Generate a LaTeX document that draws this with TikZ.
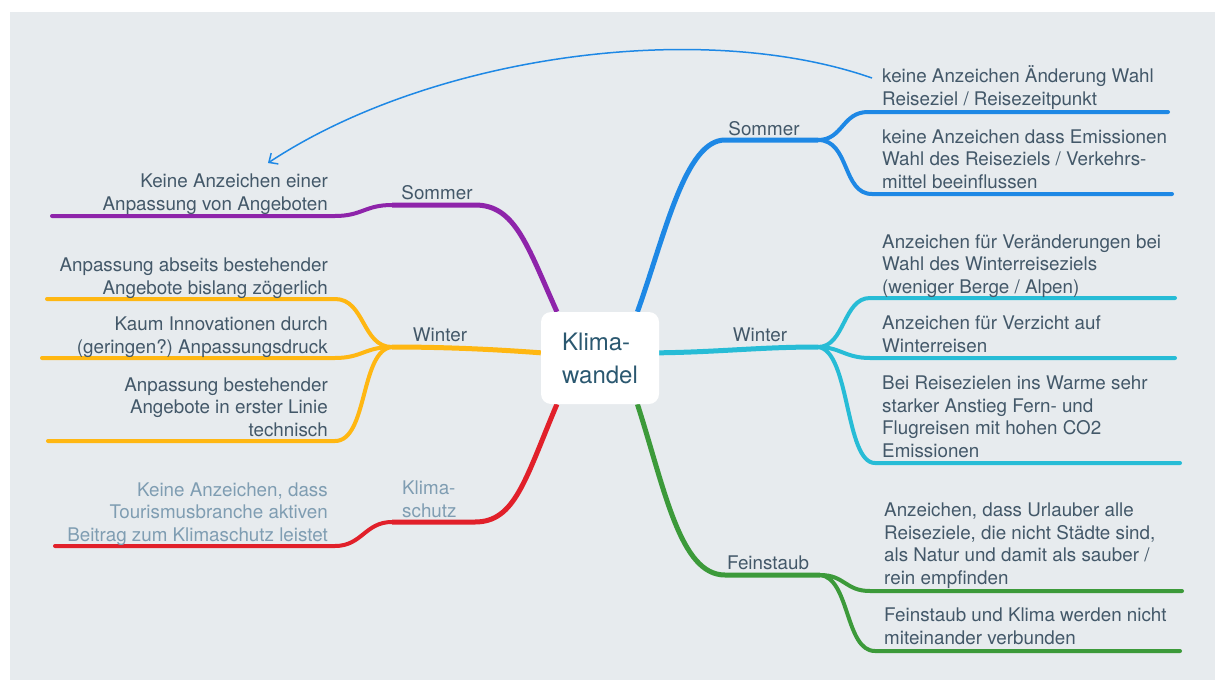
\documentclass[tikz,border=0pt]{standalone}
\usepackage{fontspec}
\setmainfont{TeX Gyre Heros}
\usetikzlibrary{positioning, arrows.meta, backgrounds}
\frenchspacing

\definecolor{bgGray}{HTML}{E7EBEE}
\definecolor{txtDark}{HTML}{435869}
\definecolor{txtLight}{HTML}{7F9DB2}
\definecolor{hubText}{HTML}{2B5870}
\definecolor{brBlue}{HTML}{1E88E5}
\definecolor{brCyan}{HTML}{27BCD6}
\definecolor{brGreen}{HTML}{3C9A3A}
\definecolor{brPurple}{HTML}{8E24AA}
\definecolor{brOrange}{HTML}{FFB712}
\definecolor{brRed}{HTML}{E1202A}

\begin{document}
\begin{tikzpicture}[
    % pixel grid, y pointing down
    x=1pt, y=-1pt,
    font=\fontsize{18.8}{22.5}\selectfont,
    % Styles for the branches
    branch/.style={line width=5pt},
    twig/.style={line width=4pt, line cap=round},
    % Styles for the texts
    leafR/.style={anchor=base west, align=left, inner sep=0pt, text=txtDark},
    leafL/.style={anchor=base east, align=right, inner sep=0pt, text=txtDark},
    topic/.style={anchor=base, inner sep=0pt, text=txtDark},
    hub_box/.style={fill=white, rounded corners=10pt, minimum width=118pt, minimum height=92pt,
        inner sep=0pt, align=left, text=hubText, font=\fontsize{24}{33}\selectfont}
]
\useasboundingbox (0,0) rectangle (1215,680);

%% --- CENTRE ---
\node[hub_box] (hub) at (600,358) {Klima-\\wandel};

%% --- RIGHT: SOMMER (blue) ---
\coordinate (bS) at (818,140);
\coordinate (b1) at (1168,112);
\coordinate (b2) at (1172,194);
\node[topic] (bSl) at (764,135) {Sommer};
\node[leafR] (b1t) at (882,105) {keine Anzeichen Änderung Wahl\\Reiseziel / Reisezeitpunkt};
\node[leafR] (b2t) at (882,188) {keine Anzeichen dass Emissionen\\Wahl des Reiseziels / Verkehrs-\\mittel beeinflussen};

%% --- RIGHT: WINTER (cyan) ---
\coordinate (cW) at (818,347);
\coordinate (c1) at (1175,298);
\coordinate (c2) at (1175,358);
\coordinate (c3) at (1180,463);
\node[topic] (cWl) at (760,341) {Winter};
\node[leafR] (c1t) at (882,293) {Anzeichen für Veränderungen bei\\Wahl des Winterreiseziels\\(weniger Berge / Alpen)};
\node[leafR] (c2t) at (882,352) {Anzeichen für Verzicht auf\\Winterreisen};
\node[leafR] (c3t) at (882,457) {Bei Reisezielen ins Warme sehr\\starker Anstieg Fern- und\\Flugreisen mit hohen CO2\\Emissionen};

%% --- RIGHT: FEINSTAUB (green) ---
\coordinate (gF) at (820,575);
\coordinate (g1) at (1182,591);
\coordinate (g2) at (1180,651);
\node[topic] (gFl) at (768,569) {Feinstaub};
\node[leafR] (g1t) at (884,584) {Anzeichen, dass Urlauber alle\\Reiseziele, die nicht Städte sind,\\als Natur und damit als sauber /\\rein empfinden};
\node[leafR] (g2t) at (884,644) {Feinstaub und Klima werden nicht\\miteinander verbunden};

%% --- LEFT: SOMMER (purple) ---
\coordinate (pS) at (392,205);
\coordinate (p1) at (52,216);
\node[topic] (pSl) at (437,199) {Sommer};
\node[leafL] (p1t) at (328,210) {Keine Anzeichen einer\\Anpassung von Angeboten};

%% --- LEFT: WINTER (orange) ---
\coordinate (oW) at (392,347);
\coordinate (o1) at (47,299);
\coordinate (o2) at (42,358);
\coordinate (o3) at (48,441);
\node[topic] (oWl) at (440,341) {Winter};
\node[leafL] (o1t) at (328,294) {Anpassung abseits bestehender\\Angebote bislang zögerlich};
\node[leafL] (o2t) at (328,353) {Kaum Innovationen durch\\(geringen?) Anpassungsdruck};
\node[leafL] (o3t) at (328,436) {Anpassung bestehender\\Angebote in erster Linie\\technisch};

%% --- LEFT: KLIMASCHUTZ (red) ---
\coordinate (rK) at (392,522);
\coordinate (r1) at (55,546);
\node[leafR, text=txtLight] (rKl) at (402,517) {Klima-\\schutz};
\node[leafL, text=txtLight] (r1t) at (328,541) {Keine Anzeichen, dass\\Tourismusbranche aktiven\\Beitrag zum Klimaschutz leistet};

%% --- CROSS LINK ---
\coordinate (arrS) at (872,78);
\coordinate (arrE) at (268,163);
\draw[brBlue, line width=1.5pt, -{Straight Barb[length=7pt, width=13pt]}]
    (arrS) .. controls (700,18) and (430,56) .. (arrE);

%% --- BACKGROUND LAYER: panel and branches ---
\begin{scope}[on background layer]
    \fill[white] (0,0) rectangle (1215,680);
    \fill[bgGray] (10,12) rectangle (1215,680);

    % Sommer (right)
    \draw[branch, brBlue] (hub.51) .. controls (665,235) and (685,140) .. (725,140) -- (bS);
    \draw[twig, brBlue] (bS) .. controls (843,140) and (842,112) .. (868,112) -- (b1);
    \draw[twig, brBlue] (bS) .. controls (850,140) and (842,194) .. (872,194) -- (b2);

    % Winter (right)
    \draw[branch, brCyan] (hub.5) .. controls (720,352) and (760,347) .. (cW);
    \draw[twig, brCyan] (cW) .. controls (845,347) and (843,298) .. (870,298) -- (c1);
    \draw[twig, brCyan] (cW) .. controls (840,347) and (845,358) .. (870,358) -- (c2);
    \draw[twig, brCyan] (cW) .. controls (850,350) and (845,463) .. (875,463) -- (c3);

    % Feinstaub
    \draw[branch, brGreen] (hub.-51) .. controls (665,490) and (680,575) .. (725,575) -- (gF);
    \draw[twig, brGreen] (gF) .. controls (845,575) and (845,591) .. (870,591) -- (g1);
    \draw[twig, brGreen] (gF) .. controls (850,578) and (845,651) .. (875,651) -- (g2);

    % Sommer (left)
    \draw[branch, brPurple] (hub.133) .. controls (527,245) and (515,205) .. (475,205) -- (pS);
    \draw[twig, brPurple] (pS) .. controls (365,205) and (362,216) .. (335,216) -- (p1);

    % Winter (left)
    \draw[branch, brOrange] (hub.175) .. controls (490,349) and (440,347) .. (oW);
    \draw[twig, brOrange] (oW) .. controls (362,347) and (365,299) .. (335,299) -- (o1);
    \draw[twig, brOrange] (oW) .. controls (365,347) and (362,358) .. (335,358) -- (o2);
    \draw[twig, brOrange] (oW) .. controls (360,350) and (368,441) .. (335,441) -- (o3);

    % Klimaschutz
    \draw[branch, brRed] (hub.-133) .. controls (525,480) and (515,522) .. (475,522) -- (rK);
    \draw[twig, brRed] (rK) .. controls (365,522) and (362,546) .. (335,546) -- (r1);
\end{scope}

\end{tikzpicture}
\end{document}
